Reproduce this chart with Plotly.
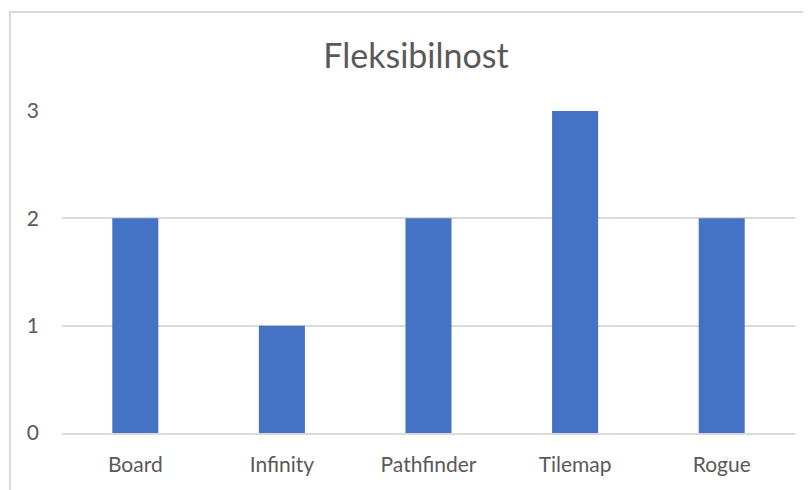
import plotly.graph_objects as go

categories = ["Board", "Infinity", "Pathfinder", "Tilemap", "Rogue"]
values = [2, 1, 2, 3, 2]
y_ticks = [0, 1, 2, 3]

W, H = 811, 490
OFF = 8  # page body margin offset
L, R, T, B = 62 - OFF, 16 + OFF, 111 - OFF, 57 + OFF
pw, ph = W - L - R, H - T - B

fig = go.Figure(go.Bar(x=categories, y=values, marker_color="#4472C4",
                       marker_line_width=0))

def px_x(p):
    return (p - OFF - L) / pw

def px_y(p):
    return 1 - (p - OFF - T) / ph

fig.update_layout(
    width=W, height=H,
    margin=dict(l=L, r=R, t=T, b=B),
    paper_bgcolor="white", plot_bgcolor="white",
    bargap=0.686,
    showlegend=False,
    font=dict(family="Lato, 'Open Sans', sans-serif", color="#595959", size=21),
    title=dict(text="Fleksibilnost", x=(416 - OFF) / W, xanchor="center",
               y=1 - (56 - OFF) / H, yanchor="middle",
               font=dict(size=34, color="#595959")),
    xaxis=dict(showgrid=False, showline=True, linecolor="#d9d9d9", linewidth=1.5,
               ticks="", ticklabelstandoff=12, tickfont=dict(size=21)),
    yaxis=dict(range=[0, 3], tickvals=y_ticks, showgrid=True, gridcolor="#d9d9d9",
               gridwidth=1.5, zeroline=False, showline=False, ticks="",
               ticklabelstandoff=22, tickfont=dict(size=21)),
    shapes=[dict(type="rect", xref="paper", yref="paper",
                 x0=px_x(10), x1=px_x(W + 20), y0=px_y(H + 20), y1=px_y(12),
                 line=dict(color="#d9d9d9", width=2), fillcolor="rgba(0,0,0,0)",
                 layer="below")],
)

fig.write_html("out.html")
